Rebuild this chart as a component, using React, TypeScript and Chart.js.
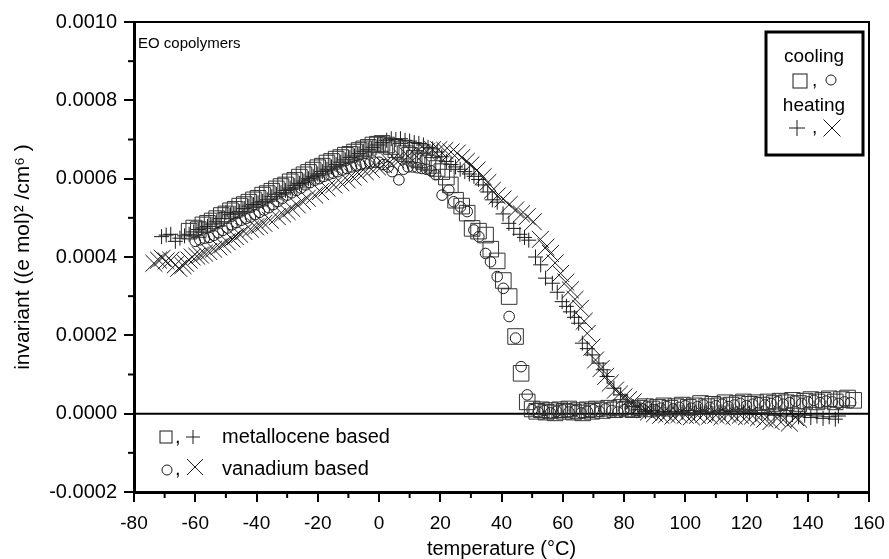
import React, { useEffect, useRef } from 'react';
import { Chart, registerables } from 'chart.js';

Chart.register(...registerables);

const FONT = "'Liberation Sans', Arial, Helvetica, sans-serif";

// ---- axis ticks ----
const xTickValues = [-80, -60, -40, -20, 0, 20, 40, 60, 80, 100, 120, 140, 160];
const xTickLabels = ['-80', '-60', '-40', '-20', '0', '20', '40', '60', '80', '100', '120', '140', '160'];
const xMinorTicks = [-70, -50, -30, -10, 10, 30, 50, 70, 90, 110, 130, 150];
const yTickValues = [-0.0002, 0, 0.0002, 0.0004, 0.0006, 0.0008, 0.001];
const yTickLabels = ['-0.0002', '0.0000', '0.0002', '0.0004', '0.0006', '0.0008', '0.0010'];
const yMinorTicks = [-0.0001, 0.0001, 0.0003, 0.0005, 0.0007, 0.0009];

// ---- metallocene based, cooling (squares) ----
const metCoolT = [
  -62, -60.5, -59, -57.5, -56, -54.5, -53, -51.5, -50, -48.5, -47, -45.5, -44, -42.5, -41, -39.5,
  -38, -36.5, -35, -33.5, -32, -30.5, -29, -27.5, -26, -24.5, -23, -21.5, -20, -18.5, -17, -15.5,
  -14, -12.5, -11, -9.5, -8, -6.5, -5, -3.5, -2, -0.5, 1, 2.5, 4, 5.5, 7, 8.5, 10, 11.5, 13, 14.5,
  16, 17.5, 19, 20.5, 22, 23.3, 25, 27, 28.8, 30.4, 32.5, 34.8, 36.5, 38.6, 40.6, 42.5, 44.6, 46.4,
  48.4, 50, 51.5, 53, 54.5, 56, 57.5, 59, 60.5, 62, 63.5, 65, 66.5, 68, 69.5, 71, 73, 75, 77, 79,
  81, 83, 85, 87, 89, 91, 93, 95, 97, 99, 101, 103, 105, 107, 109, 111, 113, 115, 117, 119, 121,
  123, 125, 127, 129, 131, 133, 135, 137, 139, 141, 143, 145, 147, 149, 151, 153, 155,
];
const metCoolV = [
  4.66e-4, 4.74e-4, 4.70e-4, 4.82e-4, 4.86e-4, 4.92e-4, 4.98e-4, 5.06e-4, 5.10e-4, 5.18e-4, 5.22e-4, 5.30e-4, 5.34e-4, 5.40e-4, 5.46e-4, 5.50e-4,
  5.58e-4, 5.62e-4, 5.68e-4, 5.74e-4, 5.80e-4, 5.84e-4, 5.92e-4, 5.96e-4, 6.04e-4, 6.10e-4, 6.16e-4, 6.22e-4, 6.28e-4, 6.32e-4, 6.40e-4, 6.44e-4,
  6.50e-4, 6.54e-4, 6.60e-4, 6.62e-4, 6.68e-4, 6.72e-4, 6.76e-4, 6.80e-4, 6.86e-4, 6.88e-4, 6.90e-4, 6.86e-4, 6.82e-4, 6.74e-4, 6.70e-4, 6.64e-4, 6.60e-4, 6.52e-4, 6.48e-4, 6.44e-4,
  6.40e-4, 6.34e-4, 6.26e-4, 6.18e-4, 6.04e-4, 5.84e-4, 5.45e-4, 5.30e-4, 5.12e-4, 4.73e-4, 4.66e-4, 4.56e-4, 4.20e-4, 3.90e-4, 3.40e-4, 2.99e-4, 1.97e-4, 1.03e-4,
  0.30e-4, 0.12e-4, 0.06e-4, 0.10e-4, 0.04e-4, 0.08e-4, 0.02e-4, 0.10e-4, 0.06e-4, 0.12e-4, 0.04e-4, 0.08e-4, 0.02e-4, 0.10e-4, 0.06e-4, 0.12e-4, 0.08e-4, 0.14e-4, 0.10e-4, 0.16e-4,
  0.12e-4, 0.10e-4, 0.14e-4, 0.18e-4, 0.12e-4, 0.16e-4, 0.20e-4, 0.14e-4, 0.18e-4, 0.22e-4, 0.16e-4, 0.20e-4, 0.26e-4, 0.18e-4, 0.24e-4, 0.20e-4, 0.28e-4, 0.22e-4, 0.26e-4, 0.30e-4, 0.24e-4,
  0.28e-4, 0.22e-4, 0.30e-4, 0.26e-4, 0.32e-4, 0.28e-4, 0.34e-4, 0.26e-4, 0.32e-4, 0.36e-4, 0.30e-4, 0.34e-4, 0.38e-4, 0.30e-4, 0.36e-4, 0.40e-4, 0.34e-4,
];

// ---- vanadium based, cooling (circles) ----
const vanCoolT = [
  -60, -58.5, -57, -55.5, -54, -52.5, -51, -49.5, -48, -46.5, -45, -43.5, -42, -40.5, -39, -37.5,
  -36, -34.5, -33, -31.5, -30, -28.5, -27, -25.5, -24, -22.5, -21, -19.5, -18, -16.5, -15, -13.5,
  -12, -10.5, -9, -7.5, -6, -4.5, -3, -1.5, 0, 1.5, 3, 4.3, 6.5, 8, 9.5, 11, 12.5, 14, 15.5, 17,
  18.5, 20.6, 22.8, 24.4, 26.6, 28.8, 31, 32.6, 34.8, 36.4, 38.6, 40.6, 42.5, 44.6, 46.4, 48.4,
  50, 52, 54, 56, 58, 60, 62, 64, 66, 68, 70, 72, 74, 76, 78, 80, 82, 84, 86, 88, 90, 92, 94, 96,
  98, 100, 102, 104, 106, 108, 110, 112, 114, 116, 118, 120, 122, 124, 126, 128, 130, 132, 134,
  136, 138, 140, 142, 144, 146, 148, 150, 152, 154,
];
const vanCoolV = [
  4.40e-4, 4.44e-4, 4.48e-4, 4.50e-4, 4.55e-4, 4.62e-4, 4.68e-4, 4.74e-4, 4.82e-4, 4.88e-4, 4.94e-4, 4.98e-4, 5.02e-4, 5.08e-4, 5.14e-4, 5.20e-4,
  5.26e-4, 5.34e-4, 5.42e-4, 5.50e-4, 5.58e-4, 5.64e-4, 5.70e-4, 5.76e-4, 5.84e-4, 5.90e-4, 5.96e-4, 6.00e-4, 6.06e-4, 6.10e-4, 6.14e-4, 6.18e-4,
  6.22e-4, 6.26e-4, 6.30e-4, 6.33e-4, 6.36e-4, 6.38e-4, 6.40e-4, 6.42e-4, 6.42e-4, 6.36e-4, 6.30e-4, 6.18e-4, 5.97e-4, 6.24e-4, 6.30e-4, 6.30e-4, 6.28e-4, 6.26e-4, 6.24e-4, 6.20e-4,
  6.10e-4, 5.58e-4, 5.71e-4, 5.41e-4, 5.28e-4, 5.16e-4, 4.69e-4, 4.52e-4, 4.09e-4, 3.88e-4, 3.50e-4, 3.20e-4, 2.48e-4, 1.93e-4, 1.20e-4, 0.48e-4,
  0.10e-4, 0.04e-4, 0.08e-4, 0.02e-4, 0.06e-4, 0.10e-4, 0.04e-4, 0.08e-4, 0.02e-4, 0.06e-4, 0.10e-4, 0.06e-4, 0.12e-4, 0.08e-4, 0.04e-4, 0.10e-4, 0.14e-4, 0.08e-4, 0.12e-4, 0.16e-4, 0.10e-4, 0.14e-4, 0.18e-4, 0.12e-4,
  0.16e-4, 0.20e-4, 0.14e-4, 0.18e-4, 0.22e-4, 0.16e-4, 0.20e-4, 0.24e-4, 0.18e-4, 0.22e-4, 0.26e-4, 0.20e-4, 0.24e-4, 0.28e-4, 0.22e-4, 0.26e-4, 0.30e-4, 0.24e-4, 0.28e-4,
  0.32e-4, 0.26e-4, 0.30e-4, 0.34e-4, 0.28e-4, 0.32e-4, 0.30e-4, 0.26e-4, 0.30e-4, 0.28e-4,
];

// ---- metallocene based, heating (plus) ----
const metHeatT = [
  -71, -69.5, -68, -66.5, -65, -63.5, -62, -60.5, -59, -57.5, -56, -54.5, -53, -51.5, -50, -48.5,
  -47, -45.5, -44, -42.5, -41, -39.5, -38, -36.5, -35, -33.5, -32, -30.5, -29, -27.5, -26, -24.5,
  -23, -21.5, -20, -18.5, -17, -15.5, -14, -12.5, -11, -9.5, -8, -6.5, -5, -3.5, -2, -0.5, 1, 2.5,
  4, 5.5, 7, 8.5, 10, 11.5, 13, 14.5, 16, 17.5, 19, 20.5, 22, 23.5, 25, 26.5, 28, 29.5, 31, 32.5,
  34, 35.5, 37, 38.6, 40.5, 42.4, 44, 46, 47.5, 48.9, 51.1, 52.8, 54.4, 56.6, 58.2, 59.8, 61.2, 62.5,
  63.8, 65.2, 66.4, 68, 69.6, 71.8, 73.2, 74.5, 76.7, 78.9, 81, 83, 85, 87, 89, 91, 93, 95, 97, 99,
  101, 103, 105, 107, 109, 111, 113, 115, 117, 119, 121, 123, 125, 127, 129, 131, 133, 135, 137,
  139, 141, 143, 145, 147, 149, 150,
];
const metHeatV = [
  4.52e-4, 4.56e-4, 4.58e-4, 4.40e-4, 4.48e-4, 4.54e-4, 4.58e-4, 4.64e-4, 4.70e-4, 4.74e-4, 4.78e-4, 4.84e-4, 4.90e-4, 4.98e-4, 5.14e-4, 5.08e-4,
  5.12e-4, 5.16e-4, 5.24e-4, 5.30e-4, 5.34e-4, 5.38e-4, 5.42e-4, 5.46e-4, 5.54e-4, 5.60e-4, 5.64e-4, 5.70e-4, 5.76e-4, 5.82e-4, 5.88e-4, 5.94e-4,
  6.00e-4, 6.06e-4, 6.12e-4, 6.18e-4, 6.24e-4, 6.30e-4, 6.36e-4, 6.42e-4, 6.48e-4, 6.54e-4, 6.58e-4, 6.64e-4, 6.70e-4, 6.74e-4, 6.80e-4, 6.86e-4, 6.92e-4, 6.98e-4,
  7.02e-4, 7.00e-4, 7.02e-4, 6.98e-4, 6.96e-4, 6.92e-4, 6.90e-4, 6.86e-4, 6.80e-4, 6.76e-4, 6.68e-4, 6.56e-4, 6.44e-4, 6.36e-4, 6.30e-4, 6.24e-4, 6.18e-4, 6.12e-4, 6.06e-4, 5.98e-4,
  5.84e-4, 5.66e-4, 5.46e-4, 5.40e-4, 5.10e-4, 4.86e-4, 4.73e-4, 4.58e-4, 4.50e-4, 4.43e-4, 4.00e-4, 3.80e-4, 3.46e-4, 3.33e-4, 3.10e-4, 2.86e-4, 2.74e-4, 2.60e-4,
  2.46e-4, 2.31e-4, 1.80e-4, 1.66e-4, 1.50e-4, 1.29e-4, 1.12e-4, 0.95e-4, 0.65e-4, 0.48e-4, 0.30e-4, 0.18e-4, 0.10e-4, 0.06e-4, 0.08e-4, 0.04e-4, 0.06e-4, 0.02e-4, 0.06e-4, 0.04e-4,
  0.08e-4, 0.02e-4, 0.06e-4, 0.04e-4, 0.00e-4, 0.04e-4, 0.02e-4, 0.06e-4, 0.00e-4, 0.04e-4, 0.02e-4, -0.02e-4, 0.02e-4, 0.00e-4, -0.04e-4, 0.00e-4, -0.06e-4, -0.02e-4, -0.08e-4,
  -0.04e-4, -0.10e-4, -0.06e-4, -0.12e-4, -0.08e-4, -0.14e-4, -0.06e-4,
];

// ---- vanadium based, heating (x) ----
const vanHeatT = [
  -73.5, -72, -70.8, -69.5, -68, -66.5, -65.4, -64, -63.2, -62, -61, -59.5, -58.3, -57, -55.6, -54,
  -52.3, -51, -49.6, -48, -46.9, -45.5, -44.1, -42, -40.3, -39, -37.6, -35.5, -33.2, -31.5, -30, -28.5,
  -26.7, -25, -23.4, -21, -19.1, -17, -14.8, -12.5, -10.4, -8.5, -6.5, -4.5, -2.5, -0.5, 1.5, 3.5,
  5.5, 7.5, 9.5, 11.5, 13.5, 15.5, 17.5, 19.5, 21.5, 23.5, 25.5, 27, 28.5, 30, 32, 34, 35.5, 37,
  38.6, 40.5, 42.5, 44.6, 46.5, 48.4, 50.4, 52.7, 54.5, 56, 57.5, 59.3, 61, 62.5, 64, 65.8, 67, 68,
  69.5, 70.7, 72.5, 74, 75.5, 77.2, 78.5, 80, 81.5, 83, 85, 87, 88, 90, 92, 94, 96, 98, 100, 102,
  104, 106, 108, 110, 112, 114, 116, 118, 120, 122, 124, 126, 128, 130, 132, 134, 136, 137,
];
const vanHeatV = [
  3.84e-4, 3.92e-4, 3.97e-4, 3.90e-4, 3.92e-4, 3.80e-4, 3.71e-4, 3.78e-4, 3.84e-4, 3.92e-4, 4.00e-4, 4.02e-4, 4.05e-4, 4.10e-4, 4.14e-4, 4.20e-4,
  4.26e-4, 4.32e-4, 4.39e-4, 4.46e-4, 4.52e-4, 4.58e-4, 4.65e-4, 4.71e-4, 4.77e-4, 4.81e-4, 4.86e-4, 4.94e-4, 5.03e-4, 5.10e-4, 5.16e-4, 5.24e-4,
  5.33e-4, 5.42e-4, 5.50e-4, 5.58e-4, 5.67e-4, 5.76e-4, 5.84e-4, 5.90e-4, 5.97e-4, 6.04e-4, 6.12e-4, 6.18e-4, 6.24e-4, 6.30e-4, 6.36e-4, 6.42e-4,
  6.48e-4, 6.54e-4, 6.58e-4, 6.62e-4, 6.66e-4, 6.70e-4, 6.74e-4, 6.74e-4, 6.72e-4, 6.68e-4, 6.65e-4, 6.54e-4, 6.44e-4, 6.35e-4, 6.22e-4, 6.05e-4, 5.90e-4, 5.70e-4,
  5.56e-4, 5.48e-4, 5.34e-4, 5.20e-4, 5.10e-4, 5.03e-4, 4.90e-4, 4.45e-4, 4.25e-4, 4.09e-4, 3.85e-4, 3.58e-4, 3.36e-4, 3.16e-4, 2.92e-4, 2.69e-4, 2.36e-4, 2.05e-4,
  1.70e-4, 1.37e-4, 1.15e-4, 0.95e-4, 0.78e-4, 0.60e-4, 0.50e-4, 0.43e-4, 0.36e-4, 0.30e-4, 0.18e-4, 0.10e-4, 0.04e-4, 0.00e-4, -0.04e-4, -0.02e-4, -0.06e-4, -0.02e-4, -0.04e-4, -0.08e-4,
  -0.04e-4, -0.02e-4, -0.06e-4, -0.04e-4, -0.08e-4, -0.02e-4, -0.06e-4, -0.04e-4, -0.08e-4, -0.06e-4, -0.10e-4, -0.14e-4, -0.20e-4, -0.12e-4, -0.16e-4, -0.24e-4, -0.10e-4, -0.14e-4,
];

const seriesNames = ['metallocene based, cooling', 'vanadium based, cooling', 'metallocene based, heating', 'vanadium based, heating'];
const noteText = 'EO copolymers';
const boxTitles = ['cooling', 'heating'];
const legendTexts = ['metallocene based', 'vanadium based'];

function pts(t: number[], v: number[]) {
  return t.map((x, i) => ({ x, y: v[i] }));
}

const INK = '#1a1a1a';

function sq(ctx: CanvasRenderingContext2D, cx: number, cy: number, s: number) {
  ctx.strokeRect(cx - s / 2, cy - s / 2, s, s);
}
function circ(ctx: CanvasRenderingContext2D, cx: number, cy: number, r: number) {
  ctx.beginPath();
  ctx.arc(cx, cy, r, 0, Math.PI * 2);
  ctx.stroke();
}
function plus(ctx: CanvasRenderingContext2D, cx: number, cy: number, h: number) {
  ctx.beginPath();
  ctx.moveTo(cx - h, cy);
  ctx.lineTo(cx + h, cy);
  ctx.moveTo(cx, cy - h);
  ctx.lineTo(cx, cy + h);
  ctx.stroke();
}
function cross(ctx: CanvasRenderingContext2D, cx: number, cy: number, h: number) {
  ctx.beginPath();
  ctx.moveTo(cx - h, cy - h);
  ctx.lineTo(cx + h, cy + h);
  ctx.moveTo(cx + h, cy - h);
  ctx.lineTo(cx - h, cy + h);
  ctx.stroke();
}

const decor = {
  id: 'decor',
  beforeDatasetsDraw(chart: any) {
    const { ctx, chartArea, scales } = chart;
    const { left, right, top, bottom } = chartArea;
    const x = scales.x;
    const y = scales.y;
    ctx.save();
    ctx.strokeStyle = '#000';
    ctx.lineWidth = 2;
    ctx.beginPath();
    ctx.moveTo(left, top);
    ctx.lineTo(right, top);
    ctx.lineTo(right, bottom);
    ctx.stroke();
    const y0 = y.getPixelForValue(0);
    ctx.beginPath();
    ctx.moveTo(left, y0);
    ctx.lineTo(right, y0);
    ctx.stroke();
    for (const t of xMinorTicks) {
      const px = x.getPixelForValue(t);
      ctx.beginPath();
      ctx.moveTo(px, bottom);
      ctx.lineTo(px, bottom + 6);
      ctx.stroke();
    }
    for (const v of yMinorTicks) {
      const py = y.getPixelForValue(v);
      ctx.beginPath();
      ctx.moveTo(left, py);
      ctx.lineTo(left - 6, py);
      ctx.stroke();
    }
    ctx.restore();
  },
  afterDraw(chart: any) {
    const { ctx } = chart;
    ctx.save();
    ctx.fillStyle = '#000';
    ctx.strokeStyle = INK;
    ctx.textBaseline = 'alphabetic';
    // note
    ctx.font = `15px ${FONT}`;
    ctx.textAlign = 'left';
    ctx.fillText(noteText, 138, 48);
    // top-right box
    ctx.lineWidth = 3;
    ctx.strokeStyle = '#000';
    ctx.strokeRect(766, 32, 97, 123);
    ctx.font = `19px ${FONT}`;
    ctx.textAlign = 'center';
    ctx.fillText(boxTitles[0], 814, 62);
    ctx.fillText(boxTitles[1], 814, 111);
    ctx.textAlign = 'left';
    ctx.fillText(',', 812, 86);
    ctx.fillText(',', 812, 133);
    ctx.lineWidth = 1;
    ctx.strokeStyle = INK;
    sq(ctx, 800, 81, 14);
    circ(ctx, 831, 80, 5);
    plus(ctx, 797, 128, 8);
    cross(ctx, 832, 128, 8.5);
    // bottom-left legend
    ctx.font = `20px ${FONT}`;
    ctx.fillText(',', 175, 443);
    ctx.fillText(',', 175, 475);
    ctx.fillText(legendTexts[0], 222, 443);
    ctx.fillText(legendTexts[1], 222, 475);
    sq(ctx, 166, 437, 12);
    plus(ctx, 193, 437, 7);
    circ(ctx, 167, 470, 5);
    cross(ctx, 195, 467, 8);
    ctx.restore();
  },
};

export default function App() {
  const ref = useRef<HTMLCanvasElement | null>(null);
  useEffect(() => {
    if (!ref.current) return;
    const chart = new Chart(ref.current, {
      type: 'scatter',
      data: {
        datasets: [
          {
            label: seriesNames[0],
            data: pts(metCoolT, metCoolV),
            pointStyle: 'rect',
            pointRadius: 11,
            borderColor: '#333',
            backgroundColor: 'rgba(0,0,0,0)',
            pointBorderWidth: 1,
            showLine: false,
          },
          {
            label: seriesNames[1],
            data: pts(vanCoolT, vanCoolV),
            pointStyle: 'circle',
            pointRadius: 5.3,
            borderColor: INK,
            backgroundColor: 'rgba(0,0,0,0)',
            pointBorderWidth: 1,
            showLine: false,
          },
          {
            label: seriesNames[2],
            data: pts(metHeatT, metHeatV),
            pointStyle: 'cross',
            pointRadius: 7.5,
            borderColor: INK,
            backgroundColor: 'rgba(0,0,0,0)',
            pointBorderWidth: 1,
            showLine: false,
          },
          {
            label: seriesNames[3],
            data: pts(vanHeatT, vanHeatV),
            pointStyle: 'crossRot',
            pointRadius: 12,
            borderColor: INK,
            backgroundColor: 'rgba(0,0,0,0)',
            pointBorderWidth: 1,
            showLine: false,
          },
        ],
      },
      options: {
        responsive: false,
        animation: false,
        devicePixelRatio: 1,
        layout: { padding: { left: 0, right: 20, top: 22, bottom: 0 } },
        plugins: { legend: { display: false }, tooltip: { enabled: false } },
        scales: {
          x: {
            type: 'linear',
            min: -80,
            max: 160,
            afterBuildTicks: (s: any) => {
              s.ticks = xTickValues.map((v) => ({ value: v }));
            },
            afterFit: (s: any) => {
              s.height = 67;
              s.paddingLeft = 0;
              s.paddingRight = 0;
            },
            ticks: {
              autoSkip: false,
              maxRotation: 0,
              color: '#000',
              padding: 10,
              font: { family: FONT, size: 19 },
              callback: (v: any) => {
                const i = xTickValues.findIndex((t) => Math.abs(t - Number(v)) < 1e-9);
                return i >= 0 ? xTickLabels[i] : '';
              },
            },
            grid: { drawOnChartArea: false, drawTicks: true, tickLength: 10, color: '#000', lineWidth: 2 },
            border: { display: true, color: '#000', width: 3 },
            title: {
              display: true,
              text: 'temperature (°C)',
              color: '#000',
              font: { family: FONT, size: 20, lineHeight: 1 },
              padding: { top: 0, bottom: 0 },
            },
          },
          y: {
            type: 'linear',
            min: -0.0002,
            max: 0.001,
            afterBuildTicks: (s: any) => {
              s.ticks = yTickValues.map((v) => ({ value: v }));
            },
            afterFit: (s: any) => {
              s.width = 134;
              s.paddingTop = 0;
              s.paddingBottom = 0;
            },
            ticks: {
              autoSkip: false,
              color: '#000',
              padding: 7,
              font: { family: FONT, size: 20 },
              callback: (v: any) => {
                const i = yTickValues.findIndex((t) => Math.abs(t - Number(v)) < 1e-9);
                return i >= 0 ? yTickLabels[i] : '';
              },
            },
            grid: { drawOnChartArea: false, drawTicks: true, tickLength: 10, color: '#000', lineWidth: 2 },
            border: { display: true, color: '#000', width: 3 },
            title: {
              display: true,
              text: 'invariant ((e mol)² /cm⁶ )',
              color: '#000',
              font: { family: FONT, size: 21, lineHeight: 1.2 },
              padding: { top: 11, bottom: 0 },
            },
          },
        },
      },
      plugins: [decor],
    } as any);
    return () => chart.destroy();
  }, []);
  return (
    <div style={{ position: 'absolute', left: 0, top: 0, width: 889, height: 559, background: '#fff' }}>
      <canvas ref={ref} width={889} height={559} style={{ display: 'block' }} />
    </div>
  );
}
